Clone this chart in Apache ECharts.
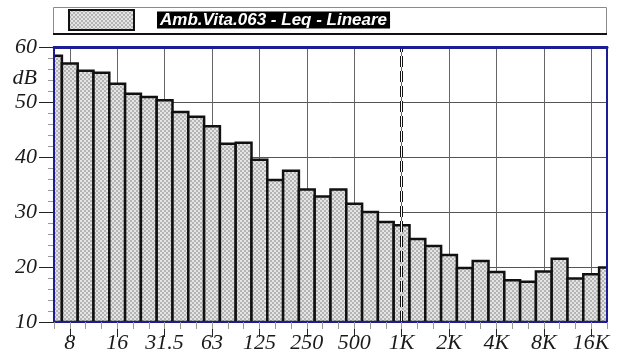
<!DOCTYPE html>
<html>
<head>
<meta charset="utf-8">
<script src="https://cdn.jsdelivr.net/npm/echarts@6/dist/echarts.min.js"></script>
<style>
html,body{margin:0;padding:0;background:#fff;}
#chart{width:619px;height:364px;}
</style>
</head>
<body>
<div id="chart"></div>
<script>
// Third-octave band centre frequencies
const categories = ['6.3','8','10','12.5','16','20','25','31.5','40','50','63','80','100','125','160','200','250','315','400','500','630','800','1K','1.25K','1.6K','2K','2.5K','3.15K','4K','5K','6.3K','8K','10K','12.5K','16K','20K'];
// Leq (dB) per band
const leqValues = [58.4,57.0,55.7,55.3,53.3,51.5,50.9,50.3,48.2,47.3,45.6,42.4,42.6,39.5,35.8,37.5,34.1,32.8,34.1,31.5,30.0,28.2,27.6,25.1,23.8,22.2,19.8,21.1,19.1,17.6,17.3,19.2,21.5,17.9,18.7,19.9];
// Labelled ticks on the frequency axis
const tickLabels = ['8','16','31.5','63','125','250','500','1K','2K','4K','8K','16K'];
const seriesName = 'Amb.Vita.063 - Leq - Lineare';
const markerFreq = '1K';
const yMin = 10, yMax = 60, yStep = 10;

// checker pattern for bars
const pc = document.createElement('canvas');
pc.width = 4; pc.height = 4;
const pctx = pc.getContext('2d');
pctx.fillStyle = '#b4b4b4'; pctx.fillRect(0,0,4,4);
pctx.fillStyle = '#e4e4e4'; pctx.fillRect(0,0,2,2); pctx.fillRect(2,2,2,2);
const pattern = {image: pc, repeat: 'repeat'};

const serif = "'Liberation Serif','Times New Roman',serif";
const frameBlue = '#1c1c94';
const isLabelled = (i, v) => tickLabels.indexOf(v) >= 0;

const barData = leqValues.map((v, i) => [i, v]);

function renderBar(params, api) {
  const idx = api.value(0);
  const top = api.coord([idx, api.value(1)]);
  const base = api.coord([idx, yMin]);
  const w = api.size([1, 0])[0];
  return {
    type: 'rect',
    shape: {x: top[0] - w / 2, y: top[1], width: w, height: base[1] - top[1]},
    style: {fill: pattern, stroke: '#111', lineWidth: 2.5}
  };
}

const chart = echarts.init(document.getElementById('chart'), null, {renderer: 'canvas'});
chart.setOption({
  animation: false,
  backgroundColor: '#fff',
  grid: {left: 54, right: 12, top: 47, bottom: 42, containLabel: false},
  graphic: [
    {type: 'rect', shape: {x: 53.5, y: 7.5, width: 553, height: 26}, style: {fill: '#fff', stroke: '#8a8a8a', lineWidth: 1}, z: -1},
    {type: 'line', shape: {x1: 53, y1: 34, x2: 607, y2: 34}, style: {stroke: '#111', lineWidth: 2}, z: -1},
    {type: 'text', x: 37, y: 78, style: {text: 'dB', font: "italic 22px 'Liberation Serif','Times New Roman',serif", fill: '#1a1a1a', textAlign: 'right', textVerticalAlign: 'middle'}}
  ],
  legend: {
    show: true, left: 68, top: 9, padding: 0,
    itemWidth: 65, itemHeight: 20, icon: 'rect',
    itemStyle: {color: pattern, borderColor: '#111', borderWidth: 2},
    formatter: function (name) { return '{g|\u00a0}{t|' + name + '}'; },
    textStyle: {
      rich: {
        g: {width: 18},
        t: {backgroundColor: '#000', color: '#fff', fontWeight: 'bold', fontStyle: 'italic', fontSize: 17, fontFamily: "'Liberation Sans',Arial,sans-serif", lineHeight: 17, padding: [0, 3, 0, 3]}
      }
    },
    data: [seriesName]
  },
  xAxis: [
    {
      type: 'category', data: categories, boundaryGap: false, position: 'bottom',
      axisLine: {show: false, onZero: false},
      axisTick: {show: true, interval: isLabelled, length: 15, lineStyle: {color: '#222', width: 1}},
      axisLabel: {show: true, interval: isLabelled, margin: 10, fontFamily: serif, fontStyle: 'italic', fontSize: 22, color: '#1a1a1a'},
      splitLine: {show: true, interval: isLabelled, lineStyle: {color: '#666', width: 1}}
    },
    {
      type: 'category', data: categories, boundaryGap: false, position: 'bottom', z: 10,
      axisLine: {show: true, onZero: false, lineStyle: {color: frameBlue, width: 2}},
      axisTick: {show: true, interval: 0, length: 7, lineStyle: {color: '#999', width: 1}},
      axisLabel: {show: false}, splitLine: {show: false}
    },
    {
      type: 'category', data: categories, boundaryGap: false, position: 'top', z: 10,
      axisLine: {show: true, onZero: false, lineStyle: {color: frameBlue, width: 3}},
      axisTick: {show: false}, axisLabel: {show: false}, splitLine: {show: false}
    }
  ],
  yAxis: [
    {
      type: 'value', min: yMin, max: yMax, interval: yStep, position: 'left',
      axisLine: {show: false, onZero: false},
      axisTick: {show: true, length: 15, lineStyle: {color: '#222', width: 1}},
      minorTick: {show: true, splitNumber: 5, length: 6, lineStyle: {color: '#999', width: 1}},
      axisLabel: {margin: 17, fontFamily: serif, fontStyle: 'italic', fontSize: 22, color: '#1a1a1a'},
      splitLine: {show: true, lineStyle: {color: '#555', width: 1}}
    },
    {
      type: 'value', min: yMin, max: yMax, position: 'left', z: 10,
      axisLine: {show: true, onZero: false, lineStyle: {color: frameBlue, width: 2}},
      axisTick: {show: false}, axisLabel: {show: false}, splitLine: {show: false}
    },
    {
      type: 'value', min: yMin, max: yMax, position: 'right', z: 10,
      axisLine: {show: true, onZero: false, lineStyle: {color: frameBlue, width: 2}},
      axisTick: {show: false}, axisLabel: {show: false}, splitLine: {show: false}
    }
  ],
  series: [{
    name: seriesName,
    type: 'custom',
    xAxisIndex: 0, yAxisIndex: 0,
    data: barData,
    encode: {x: 0, y: 1},
    clip: true,
    renderItem: renderBar,
    itemStyle: {color: pattern, borderColor: '#111', borderWidth: 2},
    emphasis: {disabled: true},
    silent: true,
    markLine: {
      silent: true, symbol: 'none', label: {show: false},
      data: [
        {xAxis: markerFreq, lineStyle: {color: '#111', width: 3, type: [11, 4]}},
        {xAxis: markerFreq, lineStyle: {color: '#fff', width: 1, type: [11, 4]}}
      ]
    }
  }]
});
</script>
</body>
</html>
